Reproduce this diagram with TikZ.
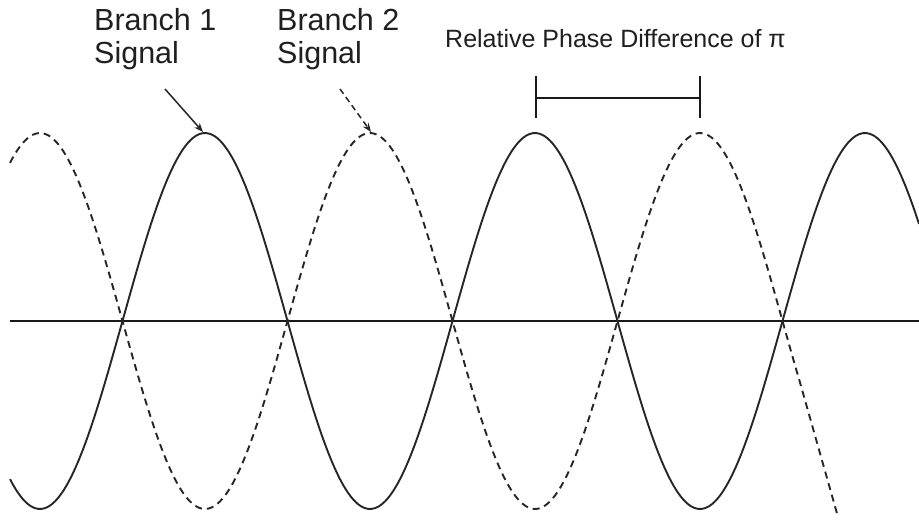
\documentclass[tikz,border=0pt]{standalone}
\usepackage{fontspec}
\setmainfont{Liberation Sans}
\usetikzlibrary{arrows.meta}
\tikzset{
  wave/.style={line width=1.9pt, color=black!85},
  dashwave/.style={wave, dash pattern=on 7pt off 5pt},
  axisline/.style={line width=2pt, color=black!90},
  lbl/.style={inner sep=0pt, anchor=north west, align=left, font=\fontsize{30.5}{33}\selectfont, text=black!88},
  smalllbl/.style={inner sep=0pt, anchor=base west, font=\fontsize{25}{28}\selectfont, text=black!88},
  pointer/.style={line width=1.5pt, color=black!85, -{Stealth[length=9pt,width=7pt]}},
  bracket/.style={line width=1.8pt, color=black!90}
}
\begin{document}
\begin{tikzpicture}[x=1pt, y=-1pt]
\useasboundingbox (0,0) rectangle (919,522);
% axis
\coordinate (axL) at (10,321);
\coordinate (axR) at (919,321);
\draw[axisline] (axL) -- (axR);
% branch 1 (solid)
\draw[wave] plot[domain=10:919, samples=260, smooth] (\x, {321-188*cos((\x-205)/330*360)});
% branch 2 (dashed)
\draw[dashwave] plot[domain=10:800, samples=240, smooth] (\x, {321+188*cos((\x-205)/330*360)}) -- (838,517);
% labels
\node[lbl] (b1) at (94,8) {Branch 1\\Signal};
\node[lbl] (b2) at (277,8) {Branch 2\\Signal};
\node[smalllbl] (rp) at (445,47) {Relative Phase Difference of π};
% pointers
\coordinate (p1s) at (165,89);
\coordinate (p1e) at (203,132);
\coordinate (p2s) at (340,89);
\coordinate (p2e) at (371,132);
\draw[pointer] (p1s) -- (p1e);
\draw[pointer, dash pattern=on 6pt off 4pt] (p2s) -- (p2e);
% bracket
\coordinate (brL) at (536,98);
\coordinate (brR) at (700,98);
\draw[bracket] (brL) -- (brR);
\draw[bracket] ([yshift=-20pt]brL) -- ([yshift=22pt]brL);
\draw[bracket] ([yshift=-20pt]brR) -- ([yshift=22pt]brR);
\end{tikzpicture}
\end{document}
